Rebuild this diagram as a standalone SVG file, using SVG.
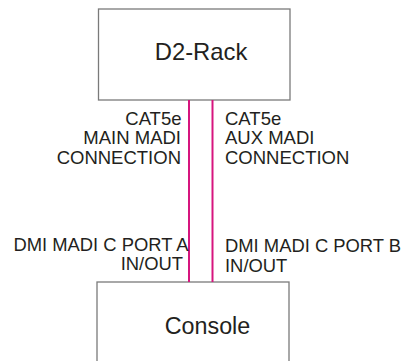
<svg xmlns="http://www.w3.org/2000/svg" width="405" height="361" viewBox="0 0 405 361">
<style>
.box{fill:#fff;stroke:#7a7a7a;stroke-width:1.3}
.t{font-family:"Liberation Sans",Arial,sans-serif;fill:#231f20}
.big{font-size:23.8px;text-anchor:middle}
.con{font-size:23.3px;text-anchor:middle}
.lbl{font-size:18.5px}
.lbl2{font-size:18.4px}
.cab{stroke:#d6157e;stroke-width:2;fill:none}
</style>
<rect width="405" height="361" fill="#fff"/>
<g id="d2rack">
<rect class="box" x="98.5" y="9" width="191.5" height="91"/>
<text class="t big" x="201" y="59.5">D2-Rack</text>
</g>
<g id="console">
<rect class="box" x="97" y="282" width="192" height="90"/>
<text class="t con" x="207.5" y="333.5">Console</text>
</g>
<g id="connectors">
<line class="cab" x1="189" y1="100" x2="189" y2="282"/>
<line class="cab" x1="212.5" y1="100" x2="212.5" y2="282"/>
</g>
<g id="labels">
<text class="t lbl" text-anchor="end" x="181.5" y="125">CAT5e</text>
<text class="t lbl" text-anchor="end" x="181" y="144">MAIN MADI</text>
<text class="t lbl" text-anchor="end" x="181" y="163.5">CONNECTION</text>
<text class="t lbl" x="225" y="125">CAT5e</text>
<text class="t lbl" x="225" y="144">AUX MADI</text>
<text class="t lbl" x="225" y="164">CONNECTION</text>
<text class="t lbl2" text-anchor="end" x="188.5" y="251">DMI MADI C PORT A</text>
<text class="t lbl2" text-anchor="end" x="183" y="270.2">IN/OUT</text>
<text class="t lbl2" x="225" y="252.3">DMI MADI C PORT B</text>
<text class="t lbl2" x="225" y="271.5">IN/OUT</text>
</g>
</svg>
